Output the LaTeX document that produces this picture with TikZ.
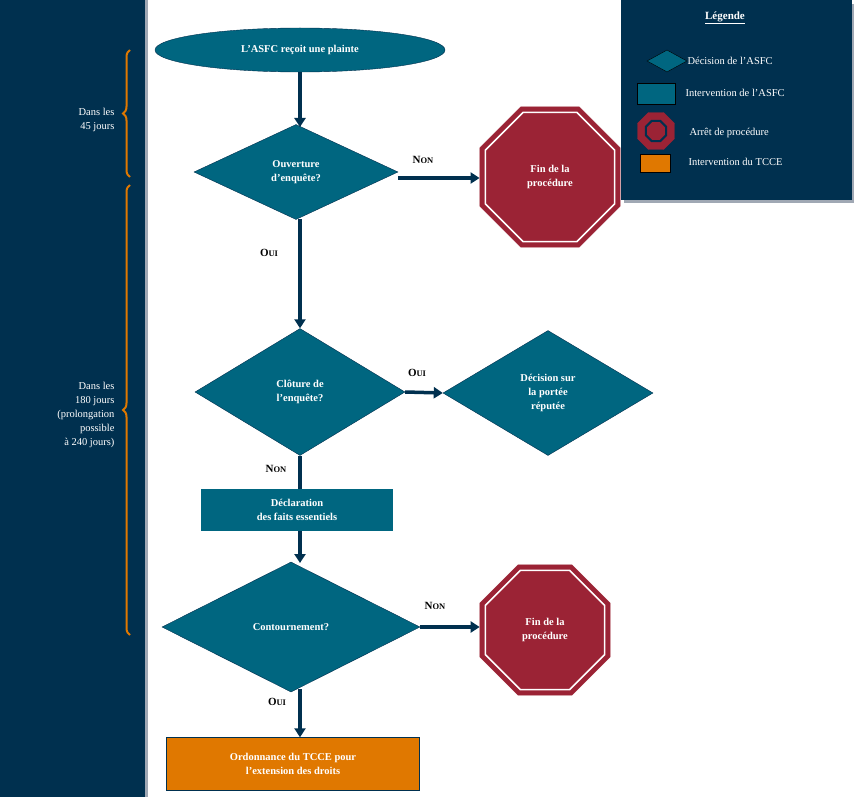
\documentclass[tikz,border=0pt]{standalone}
\usepackage{fontspec}
\setmainfont{Liberation Serif}
\usetikzlibrary{shapes.geometric,arrows.meta,decorations.pathreplacing}
\definecolor{navy}{HTML}{00304F}
\definecolor{teal}{HTML}{006680}
\definecolor{stopred}{HTML}{9B2335}
\definecolor{orng}{HTML}{E07800}
\definecolor{shad}{HTML}{A0A8B4}
\begin{document}
\begin{tikzpicture}[x=1pt,y=-1pt,
 txt/.style={text=white,font=\bfseries\fontsize{10.5}{14}\selectfont,align=center},
 dec/.style={diamond,fill=teal,draw=navy,txt,inner sep=0pt,aspect=2},
 stop/.style={regular polygon,regular polygon sides=8,fill=stopred,draw=stopred,txt,minimum size=#1,inner sep=0pt},
 arr/.style={draw=navy,line width=3.5pt,-{Triangle[length=9pt,width=11pt]}},
 lnk/.style={draw=navy,line width=3.5pt},
 lab/.style={font=\bfseries\fontsize{11}{13}\selectfont,text=black},
 brc/.style={draw=orng,line width=2pt,decorate,decoration={brace,amplitude=7pt}},
 side/.style={text=white,font=\fontsize{10.5}{14}\selectfont,align=right,anchor=east},
 leg/.style={text=white,font=\fontsize{10.5}{13}\selectfont,anchor=west}]
\useasboundingbox (0,0) rectangle (854,797);
\fill[white] (0,0) rectangle (854,797);
% left panel
\fill[shad] (145,0) rectangle (148,797);
\fill[navy] (0,0) rectangle (145,797);
% legend
\fill[shad] (624,4) rectangle (855,203);
\fill[navy] (621,0) rectangle (852,200);
\node[text=white,font=\bfseries\fontsize{11}{13}\selectfont] (lt) at (725,18) {\underline{Légende}};
\node[diamond,fill=teal,draw=black,minimum width=40,minimum height=22,inner sep=0pt,aspect=2] (l1) at (667,61) {};
\node[leg] (l1t) at (684,61) {Décision de l’ASFC};
\node[rectangle,fill=teal,draw=black,minimum width=38,minimum height=21,inner sep=0pt] (l2) at (656,94) {};
\node[leg] (l2t) at (682,93) {Intervention de l’ASFC};
\node[stop=40] (l3) at (656,131) {};
\node[regular polygon,regular polygon sides=8,draw=navy,line width=2pt,minimum size=22,inner sep=0pt] (l3i) at (656,131) {};
\node[leg] (l3t) at (686,133) {Arrêt de procédure};
\node[rectangle,fill=orng,draw=black,minimum width=30,minimum height=18,inner sep=0pt] (l4) at (655,163) {};
\node[leg] (l4t) at (685,162) {Intervention du TCCE};
% braces
\draw[brc] (130,177) -- (130,50);
\node[side] (b1) at (118,120) {Dans les\\45 jours};
\draw[brc] (130,635) -- (130,185);
\node[side] (b2) at (118,415) {Dans les\\180 jours\\(prolongation\\possible\\à 240 jours)};
% nodes
\node[ellipse,fill=teal,draw=navy,minimum width=290,minimum height=44,txt] (start) at (300,50) {L’ASFC reçoit une plainte};
\node[dec,minimum width=204,minimum height=95] (d1) at (296,172) {Ouverture\\d’enquête?};
\node[stop=152] (s1) at (550,177) {Fin de la\\procédure};
\node[regular polygon,regular polygon sides=8,draw=white,line width=1.5pt,minimum size=140,inner sep=0pt] (s1i) at (550,177) {};
\node[dec,minimum width=210,minimum height=127] (d2) at (300,392) {Clôture de\\l’enquête?};
\node[dec,minimum width=210,minimum height=125] (d3) at (548,393) {Décision sur\\la portée\\réputée};
\node[rectangle,fill=teal,minimum width=192,minimum height=42,inner sep=0pt,txt] (r1) at (297,510) {Déclaration\\des faits essentiels};
\node[dec,minimum width=258,minimum height=130] (d4) at (291,627) {Contournement?};
\node[stop=141] (s2) at (545,630) {Fin de la\\procédure};
\node[regular polygon,regular polygon sides=8,draw=white,line width=1.5pt,minimum size=129,inner sep=0pt] (s2i) at (545,630) {};
\node[rectangle,fill=orng,draw=navy,minimum width=253,minimum height=53,inner sep=0pt,txt] (r2) at (293,764) {Ordonnance du TCCE pour\\l’extension des droits};
% connectors
\coordinate (c1) at (300,72);
\coordinate (c2) at (300,127);
\draw[arr] (c1) -- (c2);
\draw[arr] (d1.east|-0,178) -- (s1.west|-0,178);
\node[lab] (n1) at (423,160) {N{\fontsize{8.5}{10}\selectfont ON}};
\draw[arr] (300,219) -- (d2.north);
\node[lab] (o1) at (269,253) {O{\fontsize{8.5}{10}\selectfont UI}};
\draw[arr] (d2.east) -- (d3.west);
\node[lab] (o2) at (417,373) {O{\fontsize{8.5}{10}\selectfont UI}};
\draw[lnk] (d2.south) -- (r1.north-|d2.south);
\node[lab] (n2) at (276,469) {N{\fontsize{8.5}{10}\selectfont ON}};
\draw[arr] (r1.south-|300,0) -- (300,563);
\draw[arr] (d4.east) -- (s2.west|-d4.east);
\node[lab] (n3) at (435,606) {N{\fontsize{8.5}{10}\selectfont ON}};
\draw[arr] (300,689) -- (r2.north-|300,0);
\node[lab] (o3) at (277,702) {O{\fontsize{8.5}{10}\selectfont UI}};
\end{tikzpicture}
\end{document}
